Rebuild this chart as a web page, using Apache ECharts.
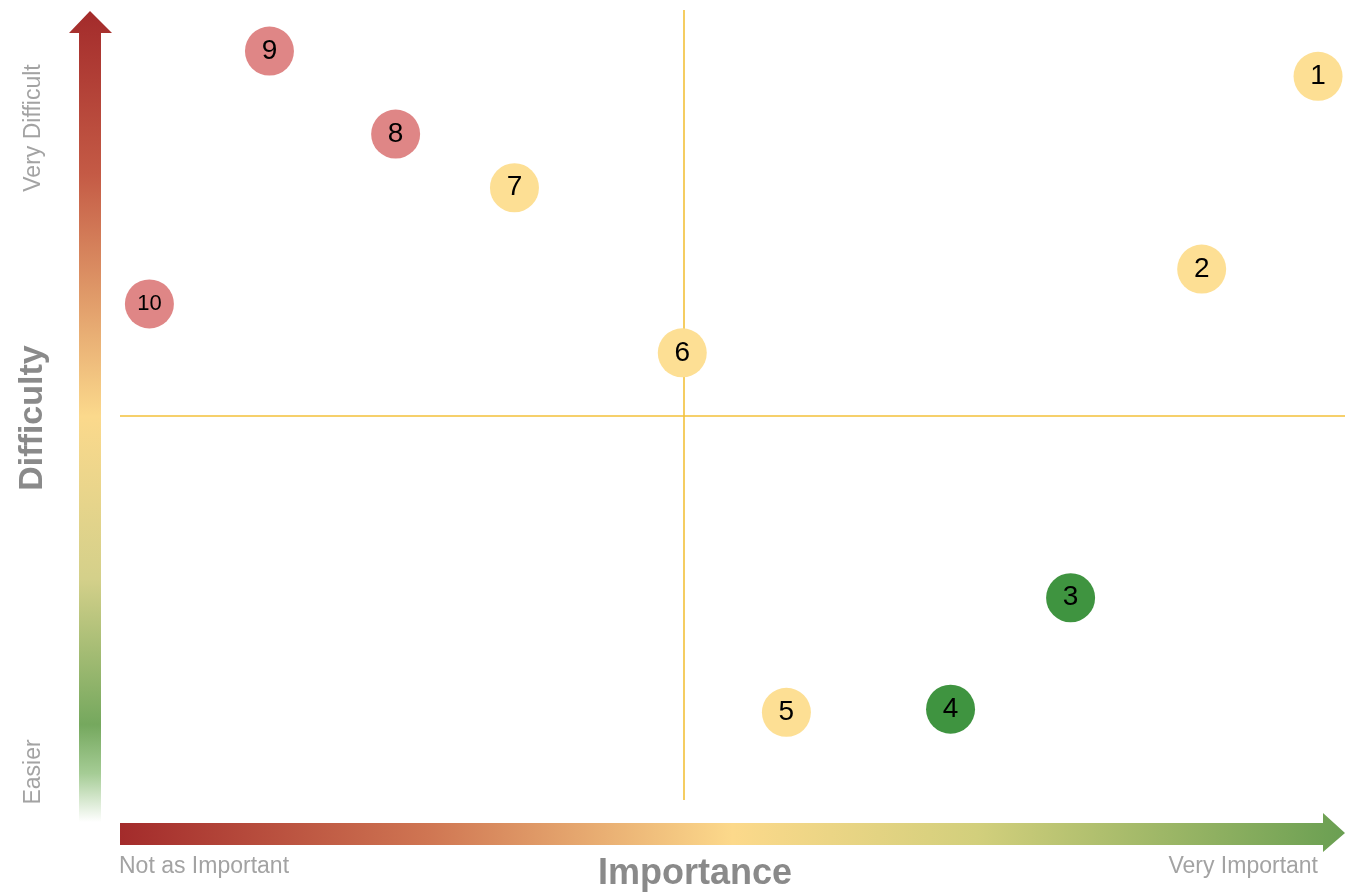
<!DOCTYPE html>
<html>
<head>
<meta charset="utf-8">
<script src="https://cdn.jsdelivr.net/npm/echarts@6/dist/echarts.min.js"></script>
<style>
html,body{margin:0;padding:0;background:#fff;}
#chart{width:1349px;height:894px;}
</style>
</head>
<body>
<div id="chart"></div>
<script>
// ---- data ----
const itemLabels = ['1','2','3','4','5','6','7','8','9','10'];
const importance = [9.78, 8.83, 7.76, 6.78, 5.44, 4.59, 3.22, 2.25, 1.22, 0.24];
const difficulty = [9.16, 6.72, 2.56, 1.15, 1.11, 5.66, 7.75, 8.43, 9.48, 6.28];
const groups = ['yellow','yellow','green','green','yellow','yellow','yellow','red','red','red'];
const midImportance = 4.6;
const midDifficulty = 4.86;
const xAxisTitle = 'Importance';
const yAxisTitle = 'Difficulty';
const xLowLabel = 'Not as Important';
const xHighLabel = 'Very Important';
const yLowLabel = 'Easier';
const yHighLabel = 'Very Difficult';

const groupColors = { yellow: '#fddf94', green: '#3f9440', red: '#df8686' };
const font = '"Liberation Sans", Arial, sans-serif';

const points = itemLabels.map((l, i) => ({
  value: [importance[i], difficulty[i]],
  name: l,
  itemStyle: { color: groupColors[groups[i]], opacity: 1 },
  label: { fontSize: l.length > 1 ? 22 : 28 }
}));

const chart = echarts.init(document.getElementById('chart'));
chart.setOption({
  animation: false,
  backgroundColor: '#fff',
  grid: { left: 120, right: 4, top: 10, bottom: 94 },
  xAxis: { type: 'value', min: 0, max: 10, show: false },
  yAxis: { type: 'value', min: 0, max: 10, show: false },
  series: [{
    type: 'line',
    data: [],
    z: 1,
    silent: true,
    markLine: {
      silent: true,
      z: 1,
      symbol: 'none',
      label: { show: false },
      lineStyle: { color: '#f3c13a', width: 1.6, type: 'solid', opacity: 1 },
      data: [{ xAxis: midImportance }, { yAxis: midDifficulty }]
    }
  }, {
    type: 'scatter',
    clip: false,
    symbolSize: 49,
    data: points,
    itemStyle: { opacity: 1 },
    label: {
      show: true,
      position: 'inside',
      formatter: p => p.name,
      color: '#000',
      fontFamily: font
    },
    z: 5
  }],
  graphic: [
    {
      type: 'polygon', z: 1,
      shape: { points: [[79, 822], [79, 33], [69, 33], [90, 11], [112, 33], [101, 33], [101, 822]] },
      style: {
        fill: new echarts.graphic.LinearGradient(0, 0, 0, 1, [
          { offset: 0, color: '#a32b2b' },
          { offset: 0.2, color: '#c45a45' },
          { offset: 0.5, color: '#fbd98c' },
          { offset: 0.7, color: '#d4d08a' },
          { offset: 0.88, color: '#75a85e' },
          { offset: 0.94, color: '#a5cc95' },
          { offset: 1, color: '#ffffff' }
        ])
      }
    },
    {
      type: 'polygon', z: 1,
      shape: { points: [[120, 823], [1323, 823], [1323, 813], [1345, 833], [1323, 852], [1323, 845], [120, 845]] },
      style: {
        fill: new echarts.graphic.LinearGradient(0, 0, 1, 0, [
          { offset: 0, color: '#a32b2b' },
          { offset: 0.25, color: '#cf7552' },
          { offset: 0.5, color: '#fcd98b' },
          { offset: 0.7, color: '#d2cf7c' },
          { offset: 1, color: '#6a9f52' }
        ])
      }
    },
    { type: 'text', z: 2, x: 34, y: 128, rotation: Math.PI / 2,
      style: { text: yHighLabel, fill: '#a3a3a3', font: '23px ' + font, align: 'center', verticalAlign: 'middle' } },
    { type: 'text', z: 2, x: 34, y: 772, rotation: Math.PI / 2,
      style: { text: yLowLabel, fill: '#a3a3a3', font: '23px ' + font, align: 'center', verticalAlign: 'middle' } },
    { type: 'text', z: 2, x: 33, y: 418, rotation: Math.PI / 2,
      style: { text: yAxisTitle, fill: '#8a8a8a', font: 'bold 34px ' + font, align: 'center', verticalAlign: 'middle' } },
    { type: 'text', z: 2, x: 119, y: 867,
      style: { text: xLowLabel, fill: '#a3a3a3', font: '23px ' + font, align: 'left', verticalAlign: 'middle' } },
    { type: 'text', z: 2, x: 1318, y: 867,
      style: { text: xHighLabel, fill: '#a3a3a3', font: '23px ' + font, align: 'right', verticalAlign: 'middle' } },
    { type: 'text', z: 2, x: 695, y: 874,
      style: { text: xAxisTitle, fill: '#8a8a8a', font: 'bold 36px ' + font, align: 'center', verticalAlign: 'middle' } }
  ]
});
</script>
</body>
</html>
